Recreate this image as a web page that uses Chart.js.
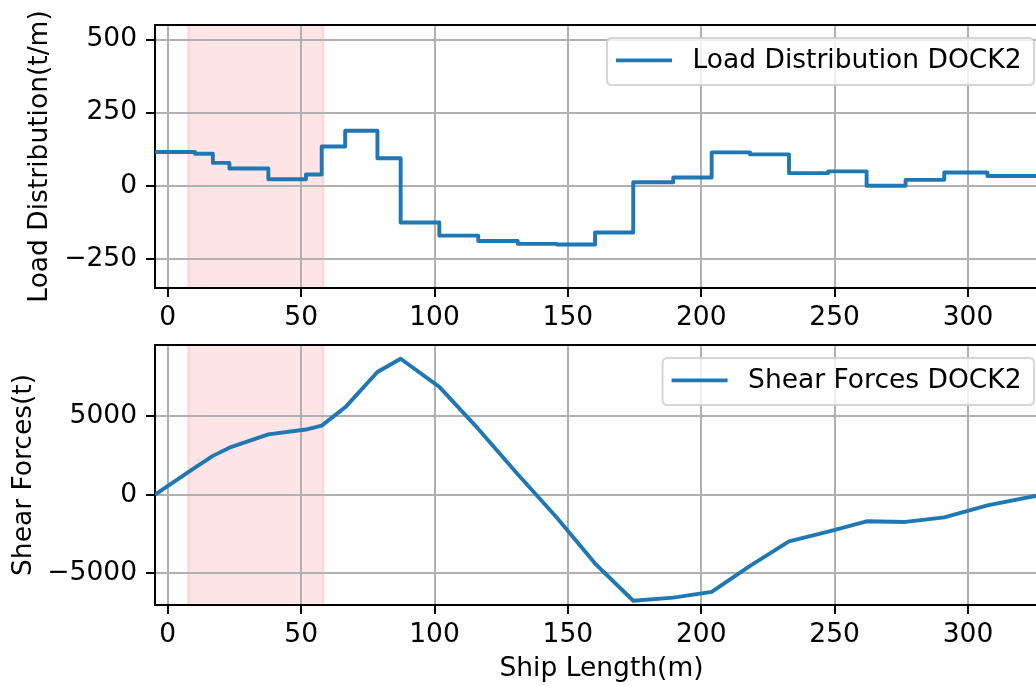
<!DOCTYPE html>
<html>
<head>
<meta charset="utf-8">
<script src="https://cdn.jsdelivr.net/npm/chart.js@4.4.1/dist/chart.umd.min.js"></script>
<style>
  html, body { margin: 0; padding: 0; background: #fff; width: 1036px; height: 686px; overflow: hidden; }
  #top { position: absolute; left: 0; top: 0; }
  #bot { position: absolute; left: 0; top: 320px; }
</style>
</head>
<body>
<canvas id="top" width="1048" height="340"></canvas>
<canvas id="bot" width="1048" height="366"></canvas>
<script>
// ---------------- data ----------------
const loadX = [-4.8, 10.2, 16.9, 23.1, 37.7, 51.8, 57.7, 66.5, 78.6, 87.3, 101.8, 116.4, 131.2, 145.8, 160.2, 174.5, 189.5, 203.9, 218.3, 232.9, 247.6, 262.0, 276.6, 291.1, 307.3, 330];
const loadY = [115, 109, 78, 59, 22, 38, 134, 188, 94, -126, -171, -189, -199, -201, -160, 12, 28, 114, 107, 43, 49, 0, 20, 45, 33, 33];

const shearX = [-4.8, 10.2, 16.9, 23.1, 37.7, 51.8, 57.7, 66.5, 78.6, 87.3, 101.8, 116.4, 131.2, 145.8, 160.2, 174.5, 189.5, 203.9, 218.3, 232.9, 247.6, 262.0, 276.6, 291.1, 307.3, 330];
const shearY = [0, 1720, 2460, 2980, 3820, 4130, 4380, 5540, 7780, 8620, 6840, 4170, 1300, -1450, -4370, -6730, -6530, -6170, -4520, -2960, -2350, -1690, -1730, -1440, -680, 80];

const highlightSpan = [7.7, 58.3];
const xTicks = [0, 50, 100, 150, 200, 250, 300];
const loadTicks = [-250, 0, 250, 500];
const shearTicks = [-5000, 0, 5000];

const loadLabel = 'Load Distribution DOCK2';
const shearLabel = 'Shear Forces DOCK2';
const loadAxisTitle = 'Load Distribution(t/m)';
const shearAxisTitle = 'Shear Forces(t)';
const xAxisTitle = 'Ship Length(m)';

// ---------------- style ----------------
const FONT = { family: 'DejaVu Sans', size: 26.5 };
const BLUE = '#1f77b4';
Chart.defaults.font.family = 'DejaVu Sans';
Chart.defaults.color = '#000';

function fmt(v) { return v < 0 ? '\u2212' + Math.abs(v) : String(v); }

const bandPlugin = {
  id: 'band',
  beforeDraw(chart) {
    const { ctx, chartArea: a, scales: { x } } = chart;
    const x0 = x.getPixelForValue(highlightSpan[0]);
    const x1 = x.getPixelForValue(highlightSpan[1]);
    ctx.save();
    ctx.fillStyle = 'rgba(255,0,0,0.1)';
    ctx.fillRect(x0, a.top, x1 - x0, a.bottom - a.top);
    ctx.strokeStyle = 'rgba(255,0,0,0.1)';
    ctx.lineWidth = 2.6;
    ctx.beginPath();
    ctx.moveTo(x0, a.top); ctx.lineTo(x0, a.bottom);
    ctx.moveTo(x1, a.top); ctx.lineTo(x1, a.bottom);
    ctx.stroke();
    ctx.restore();
  }
};

const framePlugin = {
  id: 'frame',
  afterDraw(chart) {
    const { ctx, chartArea: a } = chart;
    ctx.save();
    ctx.strokeStyle = '#000';
    ctx.lineWidth = 2;
    ctx.beginPath();
    ctx.moveTo(a.left - 1, a.top);
    ctx.lineTo(a.right, a.top);
    ctx.lineTo(a.right, a.bottom);
    ctx.stroke();
    ctx.restore();
  }
};

const legendPlugin = {
  id: 'mplLegend',
  afterDraw(chart) {
    const { ctx, chartArea: a } = chart;
    const label = chart.data.datasets[0].label;
    ctx.save();
    ctx.font = FONT.size + 'px ' + FONT.family;
    const tw = ctx.measureText(label).width;
    const right = a.right - 14;
    const top = a.top + 13;
    const h = 47;
    const textEnd = right - 12.5;
    const textStart = textEnd - tw;
    const hEnd = textStart - 20.5;
    const hStart = hEnd - 56;
    const left = hStart - 9;
    const r = 5;
    ctx.beginPath();
    ctx.moveTo(left + r, top);
    ctx.lineTo(right - r, top);
    ctx.quadraticCurveTo(right, top, right, top + r);
    ctx.lineTo(right, top + h - r);
    ctx.quadraticCurveTo(right, top + h, right - r, top + h);
    ctx.lineTo(left + r, top + h);
    ctx.quadraticCurveTo(left, top + h, left, top + h - r);
    ctx.lineTo(left, top + r);
    ctx.quadraticCurveTo(left, top, left + r, top);
    ctx.closePath();
    ctx.fillStyle = 'rgba(255,255,255,0.8)';
    ctx.fill();
    ctx.strokeStyle = 'rgba(204,204,204,0.8)';
    ctx.lineWidth = 2;
    ctx.stroke();
    const cy = top + h / 2;
    ctx.strokeStyle = BLUE;
    ctx.lineWidth = 3.9;
    ctx.beginPath();
    ctx.moveTo(hStart, cy - 1);
    ctx.lineTo(hEnd, cy - 1);
    ctx.stroke();
    ctx.fillStyle = '#000';
    ctx.textBaseline = 'middle';
    ctx.textAlign = 'left';
    ctx.fillText(label, textStart, cy);
    ctx.restore();
  }
};

function makeChart(id, xs, ys, label, stepped, yMin, yMax, yTicks, yTitle, yTitlePad, xTitle, xAxisH, padTop) {
  const pts = xs.map((x, i) => ({ x: x, y: ys[i] }));
  return new Chart(document.getElementById(id), {
    type: 'line',
    data: {
      datasets: [{
        label: label,
        data: pts,
        borderColor: BLUE,
        backgroundColor: BLUE,
        borderWidth: 3.9,
        pointRadius: 0,
        fill: false,
        tension: 0,
        stepped: stepped,
        borderJoinStyle: 'round',
        borderCapStyle: 'butt'
      }]
    },
    options: {
      responsive: false,
      animation: false,
      events: [],
      devicePixelRatio: 1,
      layout: { padding: { top: padTop, left: 0, right: 0, bottom: 0 }, autoPadding: false },
      plugins: { legend: { display: false }, tooltip: { enabled: false } },
      scales: {
        x: {
          type: 'linear',
          min: -4.8,
          max: 330,
          afterBuildTicks: s => { s.ticks = xTicks.map(v => ({ value: v })); },
          afterFit: s => { s.height = xAxisH; },
          ticks: { font: FONT, color: '#000', padding: 5, maxRotation: 0, autoSkip: false, callback: v => fmt(v) },
          grid: { color: '#b0b0b0', lineWidth: 2, tickColor: '#000', tickWidth: 2, tickLength: 9 },
          border: { color: '#000', width: 2 },
          title: xTitle ? { display: true, text: xTitle, font: FONT, color: '#000', padding: { top: 0, bottom: 1 } } : { display: false }
        },
        y: {
          type: 'linear',
          min: yMin,
          max: yMax,
          afterBuildTicks: s => { s.ticks = yTicks.map(v => ({ value: v })); },
          afterFit: s => { s.width = 155; },
          ticks: { font: FONT, color: '#000', padding: 9, autoSkip: false, callback: v => fmt(v) },
          grid: { color: '#b0b0b0', lineWidth: 2, tickColor: '#000', tickWidth: 2, tickLength: 9 },
          border: { color: '#000', width: 2 },
          title: { display: true, text: yTitle, font: FONT, color: '#000', padding: { top: yTitlePad, bottom: 0 } }
        }
      }
    },
    plugins: [bandPlugin, framePlugin, legendPlugin]
  });
}

makeChart('top', loadX, loadY, loadLabel, 'before', -350, 550, loadTicks, loadAxisTitle, 24.6, null, 52, 24);
makeChart('bot', shearX, shearY, shearLabel, false, -7000, 9500, shearTicks, shearAxisTitle, 8.5, xAxisTitle, 81, 21);
</script>
</body>
</html>
